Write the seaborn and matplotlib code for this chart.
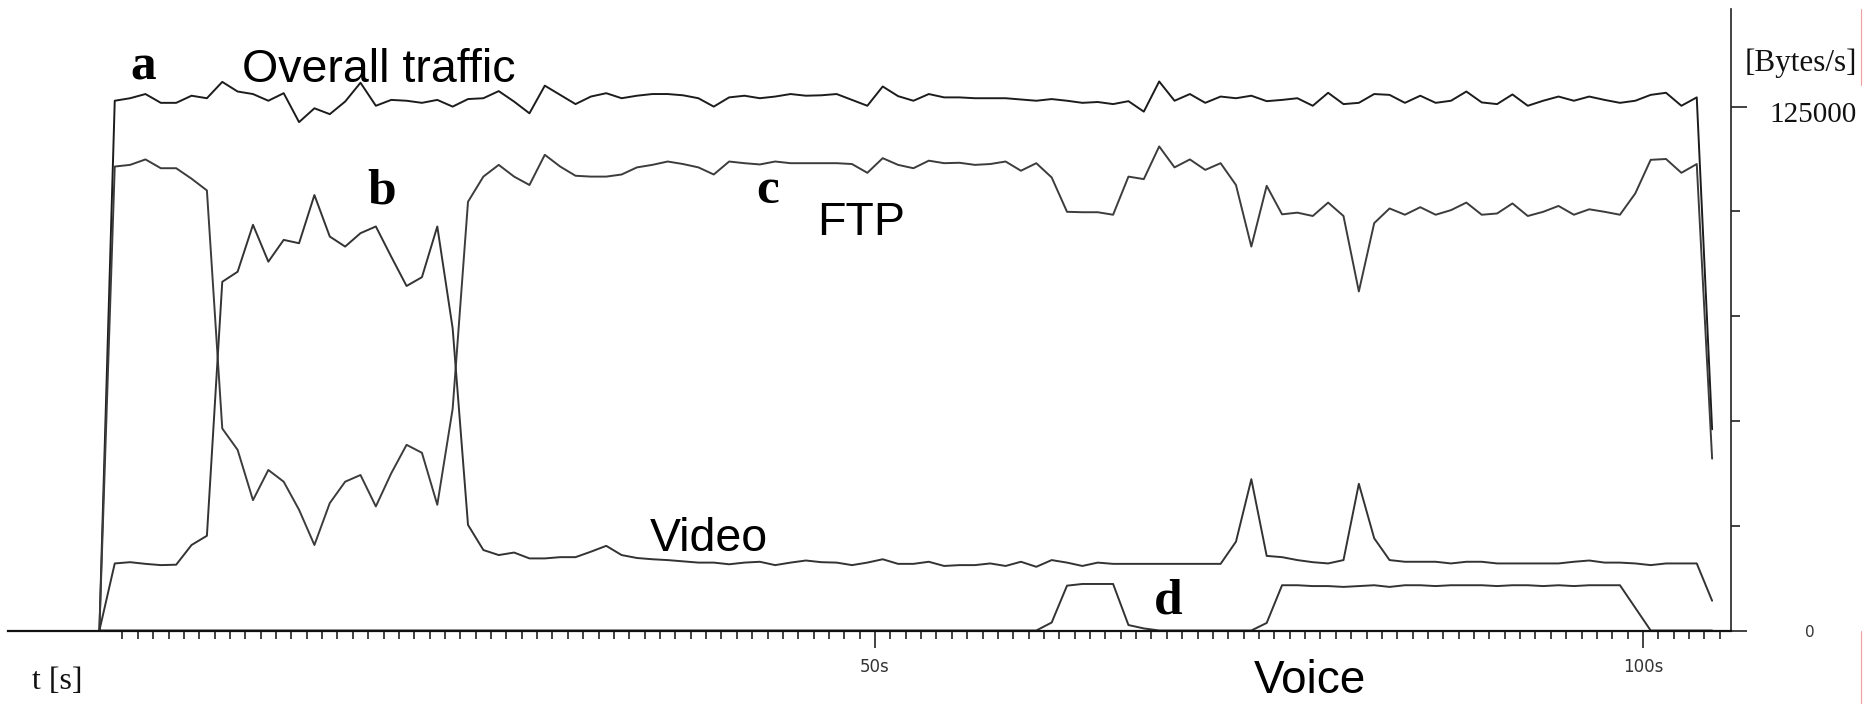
import numpy as np
import pandas as pd
import matplotlib
matplotlib.use("Agg")
import matplotlib.pyplot as plt
from matplotlib.lines import Line2D
import seaborn as sns

# ---------------- data (thousands of Bytes/s, one sample per second) ----------------
overall_k = [0, 126.4, 127.0, 128.0, 125.9, 125.9, 127.6, 127.0, 130.9, 128.6,
             128.0, 126.4, 128.2, 121.3, 124.6, 123.2, 126.2, 130.7, 125.2, 126.6,
             126.4, 125.9, 126.6, 125.0, 126.8, 127.0, 128.7, 126.2, 123.4, 130.0,
             127.8, 125.6, 127.4, 128.2, 127.0, 127.6, 128.0, 128.0, 127.7, 127.0,
             125.0, 127.2, 127.6, 127.0, 127.4, 128.0, 127.6, 127.7, 128.0, 126.6,
             125.2, 129.8, 127.5, 126.4, 128.0, 127.2, 127.2, 127.0, 127.0, 127.0,
             126.7, 126.4, 126.8, 126.4, 125.9, 126.1, 125.6, 126.3, 123.8, 131.0,
             126.4, 128.0, 125.9, 127.4, 127.0, 127.6, 126.3, 126.6, 127.0, 125.2,
             128.3, 125.6, 125.9, 128.0, 127.8, 125.9, 127.6, 125.9, 126.4, 128.6,
             126.0, 125.6, 127.9, 125.2, 126.4, 127.4, 126.4, 127.4, 126.6, 125.9,
             126.4, 127.8, 128.3, 125.2, 127.2, 48.0]

ftp_k = [0, 110.7, 111.1, 112.4, 110.3, 110.3, 107.8, 105.0, 48.2, 43.1,
         31.1, 38.3, 35.5, 28.8, 20.4, 30.4, 35.5, 37.1, 29.6, 37.5,
         44.3, 42.4, 30.0, 52.9, 102.3, 108.3, 111.1, 108.3, 106.3, 113.5,
         110.7, 108.5, 108.3, 108.3, 108.8, 110.5, 111.1, 111.9, 111.3, 110.5,
         108.8, 111.9, 111.5, 111.2, 111.9, 111.5, 111.5, 111.5, 111.5, 111.3,
         109.2, 112.7, 111.1, 110.3, 112.1, 111.5, 111.6, 111.1, 111.3, 111.9,
         109.7, 111.5, 108.1, 99.9, 99.8, 99.8, 99.2, 108.3, 107.7, 115.5,
         110.5, 112.4, 109.9, 111.5, 106.3, 91.6, 106.1, 99.3, 99.7, 98.9,
         102.1, 98.9, 80.9, 97.2, 100.7, 99.2, 101.0, 99.2, 100.3, 102.1,
         99.2, 99.5, 101.9, 98.9, 99.9, 101.3, 99.2, 100.5, 99.9, 99.2,
         104.3, 112.3, 112.5, 109.2, 111.3, 41.0]

video_k = [0, 16.0, 16.3, 15.9, 15.6, 15.7, 20.4, 22.6, 83.2, 85.6,
           96.8, 88.0, 93.2, 92.4, 103.9, 94.0, 91.6, 94.8, 96.4, 89.2,
           82.2, 84.3, 96.4, 72.1, 25.2, 19.2, 18.0, 18.6, 17.2, 17.2,
           17.5, 17.5, 18.8, 20.2, 18.0, 17.3, 17.0, 16.8, 16.5, 16.2,
           16.2, 15.8, 16.2, 16.4, 15.6, 16.2, 16.7, 16.3, 16.2, 15.6,
           16.2, 17.0, 15.9, 15.9, 16.4, 15.4, 15.6, 15.6, 16.0, 15.4,
           16.4, 15.2, 16.8, 16.2, 15.4, 16.2, 15.9, 15.9, 15.9, 15.9,
           15.9, 15.9, 15.9, 15.9, 21.2, 36.1, 17.8, 17.5, 16.8, 16.3,
           16.0, 16.8, 35.0, 22.0, 16.8, 16.4, 16.4, 16.4, 16.0, 16.4,
           16.4, 16.0, 16.0, 16.0, 16.0, 16.0, 16.4, 16.7, 16.2, 16.2,
           16.0, 15.6, 16.0, 16.0, 16.0, 7.1]

voice_k = [0] * 62 + [1.9, 10.7, 11.1, 11.1, 11.1, 1.3, 0.5] + [0] * 7 + \
          [1.8, 10.8, 10.8, 10.6, 10.6, 10.4, 10.6, 10.8, 10.4, 10.8,
           10.8, 10.6, 10.8, 10.8, 10.8, 10.6, 10.8, 10.8, 10.6, 10.8,
           10.6, 10.8, 10.8, 10.8, 5.4, 0, 0, 0, 0, 0]

series_names = ["Overall traffic", "FTP", "Video", "Voice"]
x_tick_values = [50, 100]
x_tick_labels = ["50s", "100s"]
y_major_values = [0, 125000]
y_minor_values = [25000, 50000, 75000, 100000]

# samples are taken half a second before each whole-second tick
sample_offset = -0.5
seconds = np.arange(len(overall_k)) + sample_offset

df = pd.DataFrame({
    "t": seconds,
    "Overall traffic": np.array(overall_k) * 1000,
    "FTP": np.array(ftp_k) * 1000,
    "Video": np.array(video_k) * 1000,
    "Voice": np.array(voice_k) * 1000,
})
long_df = df.melt(id_vars="t", var_name="series", value_name="bps")

# ---------------- figure ----------------
sns.set_style("white")
plt.rcParams["font.family"] = ["DejaVu Sans"]

W, H, DPI = 1869, 704, 100
fig = plt.figure(figsize=(W / DPI, H / DPI), dpi=DPI)
fig.patch.set_facecolor("white")
ax = fig.add_axes([8 / W, (H - 630.5) / H, (1731 - 8) / W, (630.5 - 9) / H])
ax.set_facecolor("white")

line_colors = {"Overall traffic": "#1c1c1c", "FTP": "#3c3c3c",
               "Video": "#333333", "Voice": "#333333"}
for name in series_names:
    sns.lineplot(data=long_df[long_df["series"] == name], x="t", y="bps",
                 color=line_colors[name], linewidth=1.4, estimator=None,
                 sort=False, legend=False, ax=ax)

ax.set_xlim(-6.45, 105.73)
ax.set_ylim(0, 148290)
ax.set_xlabel("")
ax.set_ylabel("")

for s in ["top", "left"]:
    ax.spines[s].set_visible(False)
ax.spines["bottom"].set_linewidth(1.6)
ax.spines["bottom"].set_color("#111111")
ax.spines["right"].set_linewidth(1.2)
ax.spines["right"].set_color("#222222")

# x ticks
ax.set_xticks(x_tick_values)
ax.set_xticklabels(x_tick_labels)
ax.set_xticks([s for s in range(1, 106) if s not in x_tick_values], minor=True)
ax.tick_params(axis="x", which="major", bottom=True, direction="out", length=12,
               width=1.2, color="#222222", pad=8, labelsize=12, labelcolor="#333333")
ax.tick_params(axis="x", which="minor", bottom=True, direction="out", length=5.8,
               width=1.2, color="#222222")

# y ticks on the right
ax.yaxis.set_ticks_position("right")
ax.set_yticks(y_major_values)
ax.set_yticks(y_minor_values, minor=True)
ax.tick_params(axis="y", which="major", right=True, left=False, direction="out",
               length=11.5, width=1.2, color="#222222", labelright=False, labelleft=False)
ax.tick_params(axis="y", which="minor", right=True, left=False, direction="out",
               length=6.5, width=1.2, color="#222222")

# y tick labels (different fonts in the original)
ax.text(111.07, 123000, "125000", family="Liberation Serif", fontsize=21,
        ha="center", va="center", color="#111111", clip_on=False)
ax.text(110.87, -358, "0", family="DejaVu Sans", fontsize=11,
        ha="center", va="center", color="#333333", clip_on=False)

# axis titles
ax.text(106.64, 133500, "[Bytes/s]", family="Liberation Serif", fontsize=22.5,
        ha="left", va="baseline", color="#111111", clip_on=False)
ax.text(-4.88, -13958, "t [s]", family="Liberation Serif", fontsize=23,
        ha="left", va="baseline", color="#111111", clip_on=False)

# series annotations
sans = "Liberation Sans"
ax.text(8.79, 130870, "Overall traffic", family=sans, fontsize=33.5,
        ha="left", va="baseline", color="black", clip_on=False)
ax.text(46.22, 94370, "FTP", family=sans, fontsize=33.5,
        ha="left", va="baseline", color="black", clip_on=False)
ax.text(35.35, 18970, "Video", family=sans, fontsize=33.5,
        ha="left", va="baseline", color="black", clip_on=False)
ax.text(74.67, -15000, "Voice", family=sans, fontsize=33,
        ha="left", va="baseline", color="black", clip_on=False)

serif = "Liberation Serif"
for lab, tx, vy in [("a", 1.50, 131350), ("b", 16.93, 102000),
                    ("c", 42.25, 102000), ("d", 68.16, 3940)]:
    ax.text(tx, vy, lab, family=serif, fontsize=37, fontweight="bold",
            ha="left", va="baseline", color="black", clip_on=False)

# thin red edge marks present in the source image
for y0, y1 in [(9, 85), (631, 704)]:
    fig.add_artist(Line2D([1861 / W, 1861 / W], [1 - y0 / H, 1 - y1 / H],
                          color="#f2a0a0", linewidth=0.8))

fig.savefig("out.png", dpi=DPI, facecolor="white")
